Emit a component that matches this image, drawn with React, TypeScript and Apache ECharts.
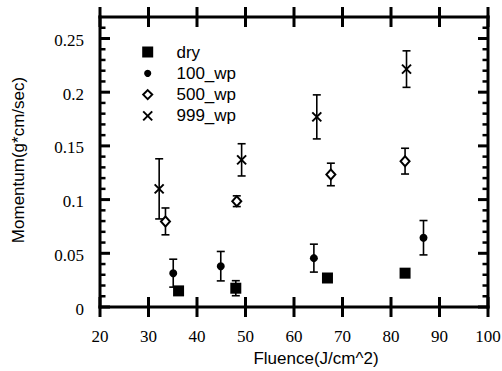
import React, { useEffect, useRef } from "react";
import * as echarts from "echarts";

const seriesNames = ["dry", "100_wp", "500_wp", "999_wp"];

const xDry = [36.2, 48.0, 66.9, 82.9];
const yDry = [0.015, 0.0175, 0.027, 0.0315];
const eDry = [0, 0.007, 0, 0];

const x100 = [35.1, 44.9, 64.1, 86.7];
const y100 = [0.0315, 0.038, 0.0455, 0.0645];
const e100 = [0.013, 0.0137, 0.013, 0.016];

const x500 = [33.5, 48.2, 67.6, 82.9];
const y500 = [0.0797, 0.0985, 0.1234, 0.1358];
const e500 = [0.0125, 0.005, 0.0105, 0.012];

const x999 = [32.2, 49.2, 64.7, 83.2];
const y999 = [0.11, 0.137, 0.177, 0.2215];
const e999 = [0.028, 0.015, 0.0205, 0.017];

const xMin = 20;
const xMax = 100;
const yMin = 0;
const yMax = 0.27;

const xTicks = [20, 30, 40, 50, 60, 70, 80, 90, 100];
const xTickLabels = ["20", "30", "40", "50", "60", "70", "80", "90", "100"];
const yMajorTicks = [0, 0.05, 0.1, 0.15, 0.2, 0.25];
const yTickLabels = ["0", "0.05", "0.1", "0.15", "0.2", "0.25"];
const yMinorTicks = [
  0.01, 0.02, 0.03, 0.04, 0.06, 0.07, 0.08, 0.09, 0.11, 0.12, 0.13, 0.14, 0.16, 0.17, 0.18, 0.19, 0.21, 0.22,
  0.23, 0.24, 0.26,
];

const SERIF = "Liberation Serif";
const SANS = "Liberation Sans";

function pts(xs: number[], ys: number[], es: number[]) {
  return xs.map((x, i) => [x, ys[i], es[i]]);
}

function errSeries(data: number[][]) {
  return {
    type: "custom",
    silent: true,
    encode: { x: 0, y: 1 },
    data,
    z: 2,
    renderItem: (_p: any, api: any) => {
      const x = api.value(0);
      const y = api.value(1);
      const e = api.value(2);
      if (!e) return null;
      const t = api.coord([x, y + e]);
      const b = api.coord([x, y - e]);
      const st = { stroke: "#000", lineWidth: 1.6 };
      const cw = 4;
      return {
        type: "group",
        children: [
          { type: "line", shape: { x1: t[0], y1: t[1], x2: b[0], y2: b[1] }, style: st },
          { type: "line", shape: { x1: t[0] - cw, y1: t[1], x2: t[0] + cw, y2: t[1] }, style: st },
          { type: "line", shape: { x1: b[0] - cw, y1: b[1], x2: b[0] + cw, y2: b[1] }, style: st },
        ],
      };
    },
  };
}

const X_PATH = "path://M0,0L10,10M10,0L0,10";

export default function App() {
  const ref = useRef<HTMLDivElement>(null);
  useEffect(() => {
    if (!ref.current) return;
    const chart = echarts.init(ref.current, null, { renderer: "svg" });

    chart.setOption({
      animation: false,
      backgroundColor: "#fff",
      grid: { left: 100, right: 14, top: 17, bottom: 64 },
      xAxis: { type: "value", min: xMin, max: xMax, show: false, splitLine: { show: false } },
      yAxis: { type: "value", min: yMin, max: yMax, show: false, splitLine: { show: false } },
      series: [
        errSeries(pts(xDry, yDry, eDry)),
        errSeries(pts(x100, y100, e100)),
        errSeries(pts(x500, y500, e500)),
        errSeries(pts(x999, y999, e999)),
        {
          name: seriesNames[0],
          type: "scatter",
          data: pts(xDry, yDry, eDry),
          symbol: "rect",
          symbolSize: 11,
          itemStyle: { color: "#000", opacity: 1 },
          z: 3,
        },
        {
          name: seriesNames[1],
          type: "scatter",
          data: pts(x100, y100, e100),
          symbol: "circle",
          symbolSize: 8,
          itemStyle: { color: "#000", opacity: 1 },
          z: 3,
        },
        {
          name: seriesNames[2],
          type: "scatter",
          data: pts(x500, y500, e500),
          symbol: "diamond",
          symbolSize: [9, 10],
          itemStyle: { color: "#fff", borderColor: "#000", borderWidth: 2, opacity: 1 },
          z: 3,
        },
        {
          name: seriesNames[3],
          type: "scatter",
          data: pts(x999, y999, e999),
          symbol: X_PATH,
          symbolSize: 9,
          itemStyle: { color: "none", borderColor: "#000", borderWidth: 2, opacity: 1 },
          z: 3,
        },
      ],
    });

    const toPx = (x: number, y: number) => chart.convertToPixel({ gridIndex: 0 }, [x, y]) as number[];
    const [left, bottom] = toPx(xMin, yMin);
    const [right, top] = toPx(xMax, yMax);
    const g: any[] = [];
    const bar = (x: number, y: number, w: number, h: number) => ({
      type: "rect",
      z: 100,
      shape: { x, y, width: w, height: h },
      style: { fill: "#000" },
    });

    // frame (filled bars)
    g.push(bar(left - 1.5, bottom - 1.5, right - left + 3, 3));
    g.push(bar(left - 1.5, top - 1.5, right - left + 3, 3));
    g.push(bar(left - 1.5, top - 1.5, 3, bottom - top + 3));
    g.push(bar(right - 1.5, top - 1.5, 3, bottom - top + 3));

    // x ticks + labels
    xTicks.forEach((v, i) => {
      const px = toPx(v, yMin)[0];
      g.push(bar(px - 1.5, bottom - 10, 3, 20));
      g.push(bar(px - 1.5, top - 10, 3, 20));
      g.push({
        type: "text",
        z: 100,
        x: px,
        y: bottom + 29,
        style: { text: xTickLabels[i], fill: "#000", font: `17px ${SERIF}`, align: "center", verticalAlign: "middle" },
      });
    });

    // y major ticks + labels
    yMajorTicks.forEach((v, i) => {
      const py = toPx(xMin, v)[1];
      g.push(bar(left, py - 1.5, 10, 3));
      g.push(bar(right - 10, py - 1.5, 10, 3));
      g.push({
        type: "text",
        z: 100,
        x: left - 16,
        y: py + 2,
        style: { text: yTickLabels[i], fill: "#000", font: `17px ${SERIF}`, align: "right", verticalAlign: "middle" },
      });
    });

    // y minor ticks
    yMinorTicks.forEach((v) => {
      const py = toPx(xMin, v)[1];
      g.push(bar(left, py - 1.25, 5.5, 2.5));
      g.push(bar(right - 5.5, py - 1.25, 5.5, 2.5));
    });

    // axis titles
    g.push({
      type: "text",
      z: 100,
      x: 316,
      y: 358,
      style: { text: "Fluence(J/cm^2)", fill: "#000", font: `17px ${SANS}`, align: "center", verticalAlign: "middle" },
    });
    g.push({
      type: "text",
      z: 100,
      x: 18,
      y: 160,
      rotation: Math.PI / 2,
      style: { text: "Momentum(g*cm/sec)", fill: "#000", font: `17px ${SANS}`, align: "center", verticalAlign: "middle" },
    });

    // legend
    const lx = 147.7;
    const ly0 = 52;
    const lgap = 21.3;
    seriesNames.forEach((name, i) => {
      const cy = ly0 + i * lgap;
      let mark: any;
      if (i === 0) mark = { type: "rect", shape: { x: lx - 5.5, y: cy - 5.5, width: 11, height: 11 }, style: { fill: "#000" } };
      else if (i === 1) mark = { type: "circle", shape: { cx: lx, cy, r: 3.6 }, style: { fill: "#000" } };
      else if (i === 2)
        mark = {
          type: "polygon",
          shape: { points: [[lx, cy - 4.5], [lx + 4.5, cy], [lx, cy + 4.5], [lx - 4.5, cy]] },
          style: { fill: "#fff", stroke: "#000", lineWidth: 2 },
        };
      else
        mark = {
          type: "group",
          children: [
            { type: "line", shape: { x1: lx - 4.5, y1: cy - 4.5, x2: lx + 4.5, y2: cy + 4.5 }, style: { stroke: "#000", lineWidth: 2 } },
            { type: "line", shape: { x1: lx + 4.5, y1: cy - 4.5, x2: lx - 4.5, y2: cy + 4.5 }, style: { stroke: "#000", lineWidth: 2 } },
          ],
        };
      g.push(mark);
      g.push({
        type: "text",
        x: 176.5,
        y: cy,
        style: { text: name, fill: "#000", font: `17px ${SANS}`, verticalAlign: "middle", align: "left" },
      });
    });

    chart.setOption({ graphic: g });
    return () => chart.dispose();
  }, []);
  return <div ref={ref} style={{ position: "fixed", left: 0, top: 0, width: 502, height: 371 }} />;
}
